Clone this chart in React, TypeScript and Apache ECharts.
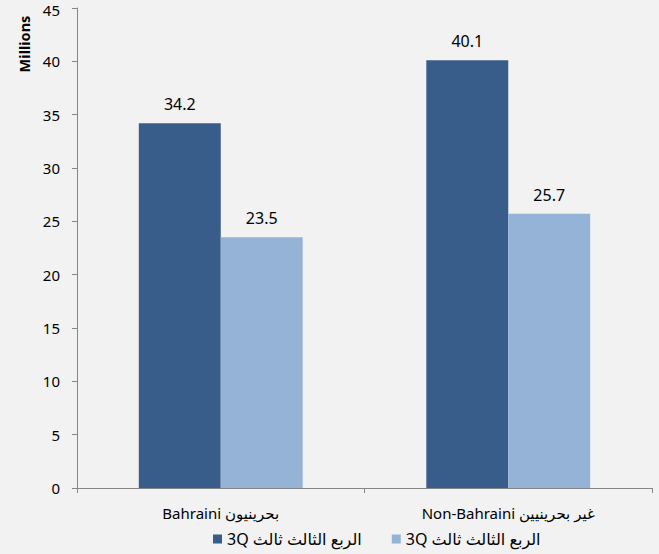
import React, { useEffect, useRef } from "react";
import * as echarts from "echarts";

const categories = ["Bahraini بحرينيون", "Non-Bahraini غير بحرينيين"];
const seriesKeys = ["q3a", "q3b"];
const seriesLabels = ["3Q الربع الثالث ثالث", "3Q الربع الثالث ثالث"];
const seriesA = [34.2, 40.1];
const seriesB = [23.5, 25.7];
const colors = ["#385D8A", "#95B3D7"];
const yAxisTitle = "Millions";
const yMax = 45;

const FONT = "'Noto Sans', 'DejaVu Sans', sans-serif";

export default function App() {
  const ref = useRef<HTMLDivElement>(null);
  useEffect(() => {
    if (!ref.current) return;
    const chart = echarts.init(ref.current, undefined, { renderer: "svg" });
    const labelMap: Record<string, string> = {};
    seriesKeys.forEach((k, i) => (labelMap[k] = seriesLabels[i]));
    const values = [seriesA, seriesB];
    chart.setOption({
      animation: false,
      backgroundColor: "#F2F2F2",
      textStyle: { fontFamily: FONT },
      grid: { left: 77, right: 7, top: 8, bottom: 66, outerBoundsMode: "none", containLabel: false },
      legend: {
        data: seriesKeys,
        bottom: 2,
        left: 208,
        itemWidth: 9,
        itemHeight: 9,
        itemGap: 30,
        icon: "rect",
        formatter: (n: string) => labelMap[n],
        textStyle: { fontSize: 16, color: "#000", fontFamily: FONT },
      },
      graphic: [
        {
          type: "text",
          x: 24,
          y: 44,
          rotation: Math.PI / 2,
          style: {
            text: yAxisTitle,
            fontSize: 14.5,
            fontWeight: "bold",
            fontFamily: FONT,
            fill: "#000",
            align: "center",
            verticalAlign: "middle",
          },
        },
      ],
      xAxis: {
        type: "category",
        data: categories,
        axisLine: { lineStyle: { color: "#868686" } },
        axisTick: { show: true, length: 5, lineStyle: { color: "#868686" } },
        axisLabel: { color: "#000", fontSize: 15, margin: 17, fontFamily: FONT },
      },
      yAxis: {
        type: "value",
        min: 0,
        max: yMax,
        interval: 5,
        axisLine: { show: true, lineStyle: { color: "#868686" } },
        axisTick: { show: true, length: 5, lineStyle: { color: "#868686" } },
        splitLine: { show: false },
        axisLabel: {
          color: "#000",
          fontSize: 15,
          lineHeight: 14,
          margin: 17,
          fontFamily: FONT,
          formatter: (v: number) => (v === yMax ? `{t|${v}}` : `${v}`),
          rich: {
            t: { fontSize: 15, lineHeight: 14, padding: [4, 0, 0, 0], color: "#000", fontFamily: FONT },
          },
        },
      },
      series: seriesKeys.map((k, i) => ({
        name: k,
        type: "bar",
        data: values[i],
        barGap: "0%",
        barCategoryGap: "43%",
        itemStyle: { color: colors[i] },
        label: {
          show: true,
          position: "top",
          distance: 11,
          color: "#000",
          fontSize: 16,
          fontFamily: FONT,
          formatter: (p: any) => p.value.toFixed(1),
        },
      })),
    });
    return () => chart.dispose();
  }, []);
  return (
    <div
      ref={ref}
      style={{ position: "absolute", left: 0, top: 0, width: 659, height: 554 }}
    />
  );
}
